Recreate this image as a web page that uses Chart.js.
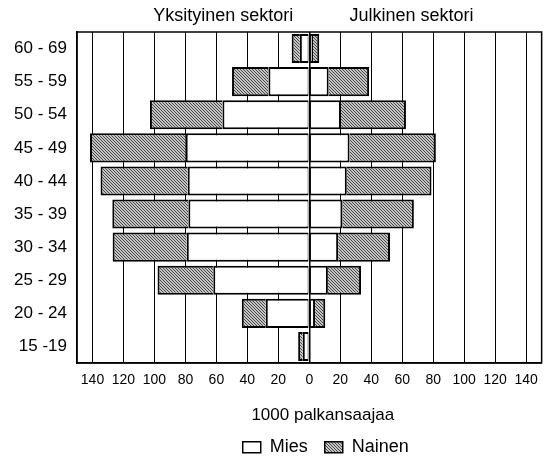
<!DOCTYPE html>
<html>
<head>
<meta charset="utf-8">
<script src="https://cdn.jsdelivr.net/npm/chart.js@4/dist/chart.umd.min.js"></script>
<style>
html,body{margin:0;padding:0;background:#fff;}
#wrap{width:547px;height:466px;}
</style>
</head>
<body>
<div id="wrap"><canvas id="c" width="547" height="466"></canvas></div>
<script>
// ---- data (thousands of wage earners) ----
const categories = ['60 - 69','55 - 59','50 - 54','45 - 49','40 - 44','35 - 39','30 - 34','25 - 29','20 - 24','15 -19'];
const privateMen   = [6.1, 26.4, 56.1, 79.8, 78.5, 78.1, 79.1, 62.0, 28.1, 4.2];
const privateWomen = [5.3, 23.5, 46.8, 61.8, 56.3, 49.1, 47.9, 36.0, 15.5, 3.0];
const publicMen    = [2.4, 12.5, 20.4, 26.0, 24.2, 21.5, 18.6, 12.0, 3.7, 0];
const publicWomen  = [4.0, 26.1, 42.0, 55.7, 54.7, 46.0, 33.5, 21.4, 6.6, 0];
const xTickValues  = [-140,-120,-100,-80,-60,-40,-20,0,20,40,60,80,100,120,140];
const sectorLabels = ['Yksityinen sektori', 'Julkinen sektori'];
const seriesLabels = ['Mies', 'Nainen'];
const axisTitle    = '1000 palkansaajaa';

// ---- styling ----
const FONT = "'Liberation Sans', Arial, sans-serif";
const sectorTickPositions = [-55.6, 66];

const canvas = document.getElementById('c');
const mainCtx = canvas.getContext('2d');
function makeHatch() {
  const p = document.createElement('canvas');
  p.width = 3; p.height = 3;
  const g = p.getContext('2d');
  g.fillStyle = '#c4c4c4';
  g.fillRect(0, 0, 3, 3);
  g.fillStyle = '#474747';
  for (let i = 0; i < 3; i++) g.fillRect(i, i, 1, 1);
  return mainCtx.createPattern(p, 'repeat');
}
const hatch = makeHatch();

const barCommon = {
  borderColor: '#000',
  borderSkipped: false,
  barPercentage: 0.88,
  categoryPercentage: 1.0,
  stack: 's'
};

const framePlugin = {
  id: 'frame',
  afterDatasetsDraw(chart) {
    const {ctx, chartArea: a} = chart;
    ctx.save();
    ctx.strokeStyle = '#000';
    ctx.lineWidth = 1.5;
    ctx.strokeRect(a.left, a.top, a.right - a.left, a.bottom - a.top);
    ctx.restore();
  }
};

const shiftPlugin = {
  id: 'shiftBoxes',
  afterLayout(chart) {
    const lg = chart.legend;
    if (lg) { lg.left += 53; lg.right += 53; lg.top -= 4; lg.bottom -= 4; }
    const tb = chart.titleBlock;
    if (tb) { tb.left += 50; tb.right += 50; }
  }
};

new Chart(canvas, {
  type: 'bar',
  data: {
    labels: categories,
    datasets: [
      Object.assign({label: seriesLabels[0], data: privateMen.map(v => -v), backgroundColor: '#ffffff',
        borderWidth: {top: 2, bottom: 2, left: 2, right: 1}}, barCommon),
      Object.assign({label: seriesLabels[1], data: privateWomen.map(v => -v), backgroundColor: hatch,
        borderWidth: {top: 2, bottom: 2, left: 2, right: 0}}, barCommon),
      Object.assign({label: seriesLabels[0], data: publicMen, backgroundColor: '#ffffff',
        borderWidth: {top: 2, bottom: 2, left: 1, right: 2}}, barCommon),
      Object.assign({label: seriesLabels[1], data: publicWomen, backgroundColor: hatch,
        borderWidth: {top: 2, bottom: 2, left: 0, right: 2}}, barCommon)
    ]
  },
  options: {
    indexAxis: 'y',
    responsive: false,
    animation: false,
    devicePixelRatio: 1,
    layout: { padding: { left: 0, right: 1.5, top: 0, bottom: -4.2 } },
    scales: {
      x: {
        type: 'linear', stacked: true, position: 'bottom',
        min: -150, max: 150,
        afterBuildTicks: s => { s.ticks = xTickValues.map(v => ({value: v})); },
        ticks: {
          callback: v => Math.abs(v),
          font: {family: FONT, size: 14},
          color: '#000', padding: 9, autoSkip: false, maxRotation: 0
        },
        grid: { color: '#000', lineWidth: c => (c.tick && c.tick.value === 0 ? 1.5 : 1), drawTicks: false },
        border: { display: true, color: '#000', width: 1.5 }
      },
      x2: {
        type: 'linear', position: 'top', min: -150, max: 150,
        afterBuildTicks: s => { s.ticks = sectorTickPositions.map(v => ({value: v})); },
        ticks: {
          callback: (v, i) => sectorLabels[i],
          font: {family: FONT, size: 18},
          color: '#000', padding: 5, autoSkip: false, maxRotation: 0
        },
        grid: { display: false, drawTicks: false },
        border: { display: false },
        afterFit: s => { s.height = 32; }
      },
      y: {
        type: 'category', stacked: true,
        ticks: { font: {family: FONT, size: 17}, color: '#000', padding: 10 },
        grid: { display: false, drawTicks: false },
        border: { display: true, color: '#000', width: 1.5 },
        afterFit: s => { s.width = 77; }
      }
    },
    plugins: {
      tooltip: { enabled: false },
      title: {
        display: true, text: axisTitle, position: 'bottom', weight: 500,
        font: {family: FONT, size: 17, weight: 'normal'}, color: '#000',
        padding: {top: 7, bottom: 0}
      },
      legend: {
        position: 'bottom',
        labels: {
          filter: item => item.datasetIndex < 2,
          boxWidth: 18, boxHeight: 11, padding: 17, color: '#000',
          font: {family: FONT, size: 18},
          generateLabels: chart => {
            const items = Chart.defaults.plugins.legend.labels.generateLabels(chart);
            items.forEach(it => { it.lineWidth = 1.5; });
            return items;
          }
        }
      }
    }
  },
  plugins: [framePlugin, shiftPlugin]
});
</script>
</body>
</html>
